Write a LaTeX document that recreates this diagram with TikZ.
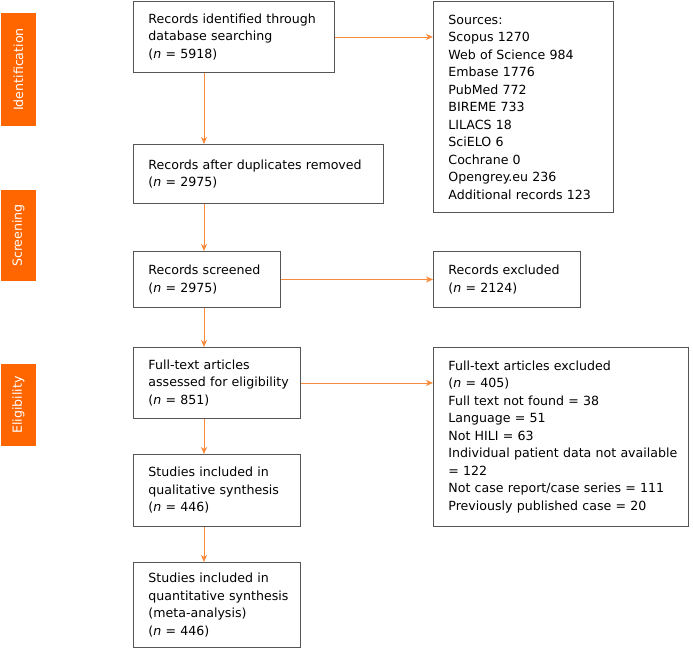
\documentclass[tikz,border=0pt]{standalone}
\usepackage{fontspec}
\setmainfont{DejaVu Sans}
\usetikzlibrary{arrows.meta}
\definecolor{phaseorange}{HTML}{FF6600}
\definecolor{floworange}{HTML}{F98A3C}
\definecolor{boxgray}{HTML}{555555}
\tikzset{
  box/.style={draw=boxgray, line width=0.9pt, anchor=north west, align=left,
    inner xsep=15pt, inner ysep=0pt, font=\fontsize{12.6}{17.5}\selectfont},
  phase/.style={fill=phaseorange, text=white, rotate=90, minimum height=35pt,
    inner sep=0pt, font=\fontsize{12.6}{15}\selectfont},
  flow/.style={draw=floworange, line width=0.8pt,
    -{Stealth[length=7pt,width=6pt,inset=2pt]}}
}
\newcommand{\nval}[1]{(\textit{n} = #1)}
\begin{document}
\begin{tikzpicture}[x=1pt,y=-1pt]
\useasboundingbox (0,0) rectangle (693,648);
% phases
\node[phase, minimum width=113pt] (ident) at (18.5,69.5) {Identification};
\node[phase, minimum width=91pt] (screen) at (18.5,235.5) {Screening};
\node[phase, minimum width=82pt] (elig) at (18.5,405) {Eligibility};
% main column
\node[box, text width=171pt, minimum height=71pt] (found) at (133,1)
  {Records identified through\\database searching\\\nval{5918}};
\node[box, text width=220pt, minimum height=59pt] (dedup) at (133,144)
  {Records after duplicates removed\\\nval{2975}};
\node[box, text width=117pt, minimum height=56pt] (screened) at (133,251)
  {Records screened\\\nval{2975}};
\node[box, text width=137pt, minimum height=71pt] (fulltext) at (133,347)
  {Full-text articles\\\mbox{assessed for eligibility}\\\nval{851}};
\node[box, text width=137pt, minimum height=72pt] (qual) at (133,454)
  {Studies included in\\qualitative synthesis\\\nval{446}};
\node[box, text width=137pt, minimum height=85pt] (quant) at (133,562)
  {Studies included in\\\mbox{quantitative synthesis}\\(meta-analysis)\\\nval{446}};
% side column
\node[box, text width=150pt, minimum height=211pt] (sources) at (433,1)
  {Sources:\\Scopus 1270\\Web of Science 984\\Embase 1776\\PubMed 772\\BIREME 733\\LILACS 18\\SciELO 6\\Cochrane 0\\Opengrey.eu 236\\Additional records 123};
\node[box, text width=117pt, minimum height=56pt] (recex) at (433,251)
  {Records excluded\\\nval{2124}};
\node[box, text width=225pt, minimum height=179pt] (ftex) at (433,347)
  {Full-text articles excluded\\\nval{405}\\Full text not found = 38\\Language = 51\\Not HILI = 63\\\mbox{Individual patient data not available}\\= 122\\Not case report/case series = 111\\Previously published case = 20};
% arrows
\draw[flow] ([xshift=71pt]found.south west) -- ([xshift=71pt]dedup.north west);
\draw[flow] ([xshift=71pt]dedup.south west) -- ([xshift=71pt]screened.north west);
\draw[flow] ([xshift=71pt]screened.south west) -- ([xshift=71pt]fulltext.north west);
\draw[flow] ([xshift=71pt]fulltext.south west) -- ([xshift=71pt]qual.north west);
\draw[flow] ([xshift=71pt]qual.south west) -- ([xshift=71pt]quant.north west);
\draw[flow] (found.east) -- (sources.west |- found.east);
\draw[flow] (screened.east) -- (recex.west);
\draw[flow] (fulltext.east) -- (ftex.west |- fulltext.east);
\end{tikzpicture}
\end{document}
